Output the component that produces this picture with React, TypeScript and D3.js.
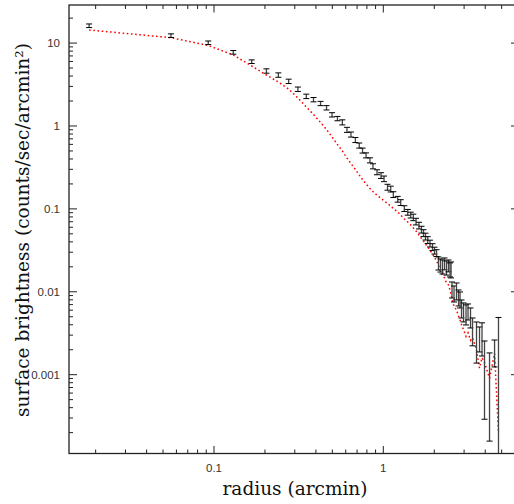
import React from "react";
import * as d3 from "d3";

// radius (arcmin)
const radius = [
  0.0183, 0.0557, 0.0925, 0.130, 0.167, 0.204, 0.240, 0.276, 0.313, 0.351,
  0.387, 0.426, 0.462, 0.498, 0.536, 0.573, 0.610, 0.644, 0.684, 0.721,
  0.754, 0.791, 0.834, 0.869, 0.918, 0.969, 1.010, 1.059, 1.106, 1.146,
  1.216, 1.267, 1.331, 1.394, 1.452, 1.504, 1.560, 1.625, 1.681, 1.728,
  1.775, 1.829, 1.887, 1.952, 2.006, 2.062,
  2.118, 2.177, 2.237, 2.299, 2.362, 2.427, 2.477, 2.512,
  2.546, 2.616, 2.706, 2.782, 2.838,
  2.897, 2.977, 3.080, 3.165, 3.274,
  3.364, 3.552, 3.700, 3.828,
  3.960, 4.240, 4.540, 4.790,
];

// surface brightness (counts/sec/arcmin^2)
const brightness = [
  16.2, 12.3, 10.1, 7.74, 5.97, 4.61, 4.12, 3.46, 2.78, 2.28,
  2.08, 1.87, 1.66, 1.365, 1.23, 1.108, 0.900, 0.790, 0.678, 0.582,
  0.506, 0.443, 0.386, 0.327, 0.277, 0.253, 0.231, 0.183, 0.174, 0.149,
  0.131, 0.1195, 0.101, 0.0912, 0.0844, 0.0792, 0.0705, 0.0631, 0.0564, 0.0512,
  0.0465, 0.0422, 0.0383, 0.0347, 0.0315, 0.0294,
  0.0223, 0.0211, 0.0203, 0.0220, 0.0197, 0.0208, 0.0187, 0.0188,
  0.01077, 0.00964, 0.01037, 0.00863, 0.00817,
  0.0064, 0.00583, 0.00546, 0.00585, 0.00502,
  0.00353, 0.00285, 0.00282, 0.00295,
  0.00142, 0.000994, 0.00193, 0.0025,
];

const brightnessErr = [
  0.81, 0.62, 0.50, 0.39, 0.30, 0.28, 0.25, 0.21, 0.17, 0.14,
  0.125, 0.11, 0.10, 0.082, 0.074, 0.078, 0.063, 0.055, 0.047, 0.041,
  0.035, 0.031, 0.027, 0.023, 0.019, 0.020, 0.018, 0.015, 0.014, 0.012,
  0.0105, 0.0096, 0.0081, 0.0073, 0.0068, 0.0071, 0.0065, 0.0058, 0.0053, 0.0049,
  0.0044, 0.0040, 0.0036, 0.0033, 0.0030, 0.0028,
  0.0040, 0.0038, 0.0039, 0.0036, 0.0038, 0.0034, 0.0036, 0.0041,
  0.00235, 0.00211, 0.0024, 0.00189, 0.00179,
  0.00157, 0.0015, 0.00148, 0.00128, 0.00136,
  0.0013, 0.00147, 0.00094, 0.00127,
  0.00113, 0.000836, 0.00069, 0.0024,
];

// model (red dotted)
const model = [
  14.39, 11.62, 9.35, 7.19, 5.29, 4.12, 3.39, 2.79, 2.18, 1.695,
  1.376, 1.102, 0.907, 0.737, 0.598, 0.499, 0.411, 0.353, 0.299, 0.256,
  0.226, 0.1997, 0.1760, 0.1620, 0.1460, 0.1340, 0.1250, 0.1161, 0.1084, 0.1011,
  0.0918, 0.0844, 0.0755, 0.0695, 0.0639, 0.0588, 0.0541, 0.0484, 0.0439, 0.0410,
  0.0377, 0.0347, 0.0319, 0.0286, 0.0263, 0.0235,
  0.0211, 0.0173, 0.0160, 0.0147, 0.0128, 0.0121, 0.0105, 0.0094,
  0.0080, 0.0067, 0.0060, 0.0051, 0.0046,
  0.0040, 0.0035, 0.0029, 0.0032, 0.0026,
  0.0028, 0.0020, 0.0012, 0.0016,
  0.0014, 0.00091, 0.0018, 0.0002,
];

const xTickValues = [0.1, 1];
const xTickLabels = ["0.1", "1"];
const yTickValues = [10, 1, 0.1, 0.01, 0.001];
const yTickLabels = ["10", "1", "0.1", "0.01", "0.001"];
const xDomain = [0.01392, 6.33];
const yDomain = [1.12e-4, 28.8];

export default function App() {
  const W = 514, H = 504;
  const left = 69, right = 519, top = 5, bottom = 453.5;
  const x = d3.scaleLog().domain(xDomain).range([left, right]);
  const y = d3.scaleLog().domain(yDomain).range([bottom, top]);
  const isMajor = (t: number) => Math.abs(Math.log10(t) - Math.round(Math.log10(t))) < 1e-6;
  const xt = x.ticks();
  const yt = y.ticks();
  const line = d3
    .line<number>()
    .x((_, i) => x(radius[i]))
    .y((d) => y(d));
  const frame = "#222";
  const tickFont = "'Liberation Sans', Arial, sans-serif";
  const titleFont = "'DejaVu Serif', serif";
  return (
    <svg width={W} height={H} style={{ position: "absolute", left: 0, top: 0, background: "#fff" }}>
      <defs>
        <clipPath id="plotclip">
          <rect x={left} y={top} width={right - left} height={bottom - top} />
        </clipPath>
      </defs>
      <rect x={0} y={0} width={W} height={H} fill="#fff" />
      {/* ticks */}
      {xt.map((t, i) => {
        const len = isMajor(t) ? 7.5 : 4;
        const px = x(t);
        return (
          <g key={"xt" + i} stroke={frame} strokeWidth={1}>
            <line x1={px} x2={px} y1={bottom} y2={bottom - len} />
            <line x1={px} x2={px} y1={top} y2={top + len} />
          </g>
        );
      })}
      {yt.map((t, i) => {
        const len = isMajor(t) ? 8 : 4;
        const py = y(t);
        return (
          <g key={"yt" + i} stroke={frame} strokeWidth={1}>
            <line x1={left} x2={left + len} y1={py} y2={py} />
            <line x1={right} x2={right - len} y1={py} y2={py} />
          </g>
        );
      })}
      {/* model */}
      <g clipPath="url(#plotclip)">
        <path d={line(model) || ""} fill="none" stroke="#ff0000" strokeWidth={1.5} strokeDasharray="1.6,2.6" />
      </g>
      {/* data error bars */}
      <g clipPath="url(#plotclip)" stroke="#000" strokeWidth={1} fill="none">
        {radius.map((r, i) => {
          const v = brightness[i];
          const e = brightnessErr[i];
          const px = x(r);
          const yTop = y(v + e);
          const lo = v - e;
          const yBot = lo > 0 ? y(lo) : bottom + 10;
          return (
            <g key={"d" + i}>
              <line x1={px} x2={px} y1={yTop} y2={yBot} stroke="#444" strokeWidth={1.3} />
              <line x1={px - 3} x2={px + 3} y1={yTop} y2={yTop} />
              <line x1={px - 3} x2={px + 3} y1={yBot} y2={yBot} />
            </g>
          );
        })}
      </g>
      {/* frame */}
      <rect x={left} y={top} width={right - left} height={bottom - top} fill="none" stroke={frame} strokeWidth={1.3} />
      {/* tick labels */}
      {xTickValues.map((t, i) => (
        <text key={"xl" + i} x={x(t)} y={472} textAnchor="middle" fontFamily={tickFont} fontSize={11.5} fill="#333">
          {xTickLabels[i]}
        </text>
      ))}
      {yTickValues.map((t, i) => (
        <text key={"yl" + i} x={60} y={y(t) + 4} textAnchor="end" fontFamily={tickFont} fontSize={11.5} fill="#333">
          {yTickLabels[i]}
        </text>
      ))}
      {/* titles */}
      <text x={295} y={495} textAnchor="middle" fontFamily={titleFont} fontSize={18.5} fill="#111">
        radius (arcmin)
      </text>
      <text
        transform={`translate(29,230) rotate(-90)`}
        textAnchor="middle"
        fontFamily={titleFont}
        fontSize={18.5}
        fill="#111"
      >
        surface brightness (counts/sec/arcmin²)
      </text>
    </svg>
  );
}
